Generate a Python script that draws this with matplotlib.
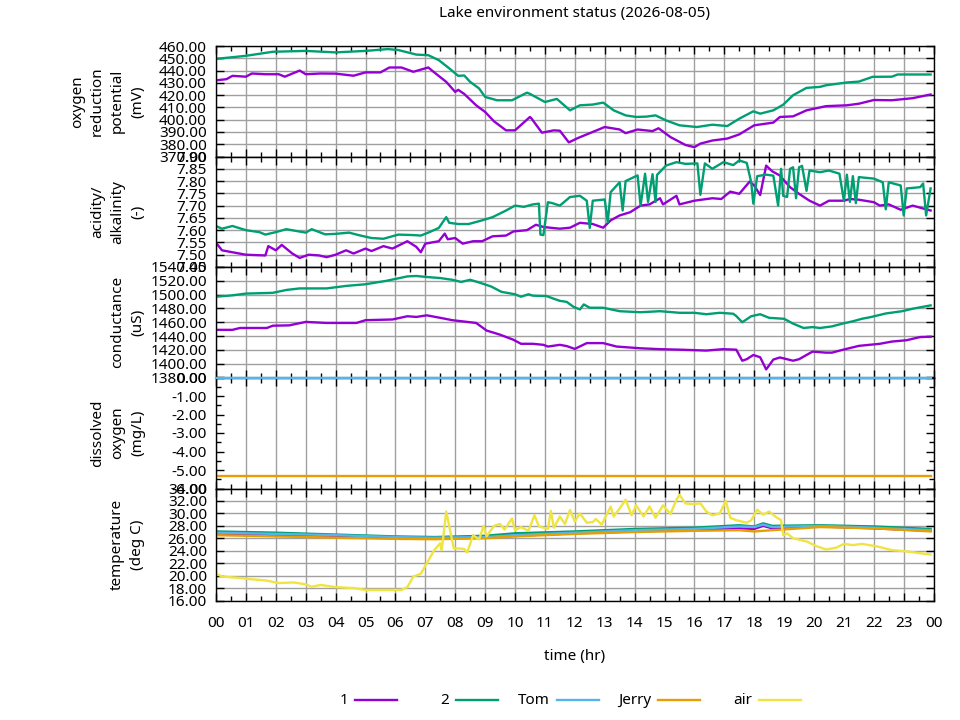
import matplotlib
matplotlib.use("Agg")
import matplotlib.pyplot as plt
from matplotlib.lines import Line2D
from matplotlib.ticker import MultipleLocator, FormatStrFormatter, FixedLocator

plt.rcParams['font.family'] = ['Noto Sans', 'DejaVu Sans']
plt.rcParams['font.size'] = 11

# ---- data (hours, value) ----
orp1_t = [0, 0.35, 0.55, 1, 1.2, 1.65, 2.1, 2.3, 2.8, 3, 3.5, 4, 4.6, 5, 5.5, 5.8, 6.2, 6.6, 7.1, 7.3,
          7.7, 8.0, 8.1, 8.3, 8.7, 9.0, 9.3, 9.7, 10.0, 10.5, 10.55, 10.9, 11.3, 11.5, 11.8, 12.1, 12.6,
          13.0, 13.5, 13.7, 14.1, 14.6, 14.8, 15.2, 15.7, 16.0, 16.2, 16.6, 17.1, 17.5, 18.0, 18.64,
          18.86, 19.3, 19.75, 20.4, 21.1, 21.5, 22.0, 22.6, 23.3, 23.9]
orp1_v = [432, 433, 435.7, 435, 437.6, 437, 437, 435, 440, 437, 437.6, 437.5, 435.8, 438.5, 438.5, 442.5,
          442.5, 439, 442.5, 438.5, 430.8, 422.6, 424.3, 421, 411.7, 406.3, 398.6, 391.3, 391.3, 402.2,
          401, 389.4, 391.3, 391, 381.5, 385, 390, 394, 392, 389, 392, 390.7, 393, 385.8, 379.4, 377.6,
          380.5, 383, 384.6, 388, 395.4, 397.6, 402.2, 402.7, 407.6, 411, 411.7, 413, 416, 415.8,
          417.5, 420.5]

orp2_t = [0, 1, 1.9, 3.0, 4.0, 5, 5.75, 6.1, 6.7, 7.1, 7.45, 7.8, 8.1, 8.3, 8.5, 8.8, 9.0, 9.4, 9.9,
          10.4, 10.5, 11.0, 11.4, 11.84, 12.17, 12.6, 12.95, 13.3, 13.7, 14.05, 14.4, 14.7, 15.05,
          15.5, 16.08, 16.6, 17.1, 17.5, 17.97, 18.2, 18.64, 18.97, 19.3, 19.75, 20.2, 20.4, 21.1,
          21.5, 21.96, 22.6, 22.8, 23.9]
orp2_v = [449.5, 452, 455.3, 456, 454.8, 456, 457.5, 456.7, 453, 452.5, 448.5, 441.8, 435.7, 436,
          430.8, 425.4, 418.5, 415.8, 415.8, 422, 421, 414.4, 416.9, 407.6, 411.7, 412.3, 413.9,
          407.6, 403.5, 402.2, 402.5, 403.5, 399.4, 395.4, 394, 395.9, 394.8, 400.8, 406.8, 404.9,
          407.6, 412.2, 419.9, 425.9, 426.7, 428, 430.3, 431, 434.9, 435, 436.8, 436.8]

ph1_t = [0, 0.2, 0.55, 1, 1.65, 1.75, 2, 2.2, 2.55, 2.8, 3.1, 3.45, 3.7, 4, 4.35, 4.6, 5, 5.2, 5.6,
         5.9, 6.4, 6.7, 6.85, 7.0, 7.45, 7.65, 7.75, 8.0, 8.25, 8.6, 8.9, 9.25, 9.7, 9.95, 10.4,
         10.7, 10.95, 11.25, 11.5, 11.84, 12.17, 12.6, 12.95, 13.2, 13.5, 13.85, 14.2, 14.5, 14.85,
         14.95, 15.4, 15.5, 16.0, 16.6, 16.9, 17.2, 17.5, 17.85, 18.0, 18.2, 18.4, 18.6, 18.85,
         19.2, 19.5, 19.85, 20.2, 20.5, 21.0, 21.2, 21.5, 22.0, 22.2, 22.5, 22.9, 23.3, 23.9]
ph1_v = [7.549, 7.518, 7.51, 7.50, 7.497, 7.535, 7.518, 7.54, 7.505, 7.487, 7.50, 7.497, 7.49, 7.50,
         7.518, 7.505, 7.525, 7.515, 7.535, 7.525, 7.555, 7.532, 7.51, 7.545, 7.555, 7.586, 7.563,
         7.568, 7.545, 7.555, 7.555, 7.575, 7.578, 7.595, 7.60, 7.622, 7.613, 7.609, 7.606, 7.61,
         7.63, 7.625, 7.61, 7.64, 7.66, 7.673, 7.70, 7.705, 7.73, 7.705, 7.74, 7.705, 7.72, 7.73,
         7.727, 7.757, 7.748, 7.798, 7.782, 7.743, 7.863, 7.84, 7.823, 7.775, 7.748, 7.72, 7.70,
         7.72, 7.72, 7.727, 7.724, 7.714, 7.70, 7.705, 7.683, 7.70, 7.68]

ph2_t = [0, 0.2, 0.55, 1, 1.45, 1.65, 2, 2.35, 3, 3.2, 3.65, 4, 4.45, 4.8, 5.2, 5.6, 6.1, 6.6, 6.85,
         7.1, 7.45, 7.7, 7.8, 8.1, 8.45, 8.9, 9.25, 9.7, 10.0, 10.3, 10.6, 10.8, 10.85, 10.95, 11.1,
         11.25, 11.5, 11.84, 12.17, 12.4, 12.5, 12.6, 13.0, 13.1, 13.2, 13.5, 13.6, 13.7, 14.1,
         14.2, 14.35, 14.45, 14.6, 14.7, 14.75, 15.05, 15.4, 15.7, 16.1, 16.2, 16.35, 16.6, 16.97,
         17.3, 17.5, 17.75, 17.9, 17.97, 18.1, 18.4, 18.64, 18.8, 18.9, 18.97, 19.1, 19.2, 19.3,
         19.4, 19.5, 19.6, 19.75, 19.85, 20.2, 20.5, 20.85, 21.0, 21.1, 21.2, 21.3, 21.4, 21.5,
         22.0, 22.3, 22.4, 22.5, 22.9, 23.0, 23.1, 23.55, 23.65, 23.75, 23.9]
ph2_v = [7.617, 7.606, 7.617, 7.60, 7.592, 7.582, 7.592, 7.604, 7.59, 7.604, 7.583, 7.585, 7.59,
         7.579, 7.568, 7.565, 7.582, 7.58, 7.578, 7.59, 7.609, 7.653, 7.63, 7.625, 7.625, 7.64,
         7.653, 7.68, 7.70, 7.695, 7.705, 7.708, 7.582, 7.58, 7.714, 7.71, 7.70, 7.735, 7.74, 7.72,
         7.609, 7.72, 7.725, 7.633, 7.755, 7.795, 7.68, 7.80, 7.823, 7.70, 7.83, 7.715, 7.828,
         7.715, 7.825, 7.863, 7.877, 7.87, 7.872, 7.744, 7.872, 7.85, 7.877, 7.865, 7.884, 7.874,
         7.795, 7.708, 7.82, 7.826, 7.822, 7.70, 7.85, 7.74, 7.735, 7.85, 7.856, 7.73, 7.856,
         7.862, 7.76, 7.843, 7.836, 7.843, 7.83, 7.72, 7.826, 7.715, 7.82, 7.71, 7.816, 7.81,
         7.795, 7.685, 7.795, 7.782, 7.66, 7.77, 7.775, 7.79, 7.66, 7.77]

cond1_t = [0, 0.55, 0.8, 1.7, 1.9, 2.45, 3, 3.7, 4.7, 5, 5.9, 6.4, 6.7, 7.05, 7.5, 7.9, 8.4, 8.7,
           9.05, 9.5, 9.95, 10.2, 10.6, 10.95, 11.1, 11.5, 11.73, 12.0, 12.4, 12.95, 13.4, 14.2,
           14.85, 15.5, 16.4, 16.95, 17.4, 17.6, 17.75, 17.97, 18.2, 18.4, 18.64, 18.86, 19.3,
           19.5, 19.95, 20.4, 20.6, 20.95, 21.5, 22.2, 22.6, 23.1, 23.55, 23.9]
cond1_v = [1449, 1449, 1451.7, 1451.7, 1455, 1455.5, 1460.5, 1459, 1459, 1463, 1464, 1468.7, 1467.7,
           1470, 1466.4, 1463, 1460.5, 1459, 1448, 1442, 1434.6, 1428.8, 1428.8, 1427.3, 1424.8,
           1427.3, 1425.5, 1421.4, 1429.8, 1429.8, 1424.8, 1422.3, 1421, 1420.3, 1419, 1421,
           1420.3, 1404.3, 1406.5, 1412.6, 1409.3, 1391.7, 1406, 1409, 1404.3, 1406.5, 1417.5,
           1416, 1416, 1420, 1425.8, 1428.8, 1432, 1434, 1438.6, 1439]

cond2_t = [0, 0.55, 1, 1.9, 2.36, 2.8, 3.7, 4.37, 5, 5.7, 6.4, 6.7, 7.05, 7.5, 7.9, 8.2, 8.5, 8.8,
           9.2, 9.55, 10.0, 10.2, 10.45, 10.6, 11.05, 11.3, 11.5, 11.73, 11.95, 12.17, 12.3, 12.5,
           12.95, 13.5, 14.2, 14.85, 15.5, 16.0, 16.4, 16.85, 17.3, 17.4, 17.6, 17.9, 18.2, 18.5,
           19.0, 19.3, 19.65, 19.95, 20.2, 20.6, 20.95, 21.3, 21.6, 21.9, 22.4, 22.95, 23.3, 23.9]
cond2_v = [1497, 1499, 1501.5, 1502.6, 1506.8, 1509, 1509, 1512.7, 1515, 1520, 1526.4, 1527, 1525.5,
           1524, 1521.5, 1518.4, 1521.5, 1517.6, 1511.8, 1504, 1500.5, 1497, 1500.5, 1498.5, 1498,
           1494, 1491, 1489.5, 1482.5, 1478.5, 1485.8, 1481, 1481, 1476, 1474.5, 1476, 1473.7,
           1473.7, 1471.6, 1473.7, 1472.3, 1469, 1460, 1468.7, 1471.6, 1466.4, 1465, 1458, 1451.7,
           1453, 1451.7, 1454, 1458, 1461.4, 1465, 1467.5, 1472.7, 1476, 1479.6, 1484.4]

do_t = [0, 23.92]
do_tom = [0.0, 0.0]
do_jerry = [-5.35, -5.35]

temp_t = [0, 2, 4, 6, 7.3, 9, 10, 12, 14, 16, 17.5, 18.0, 18.3, 18.6, 20.2, 22, 23.9]
temp1 = [26.7, 26.5, 26.4, 26.1, 26.0, 26.1, 26.4, 26.8, 27.1, 27.4, 27.6, 27.5, 28.0, 27.6, 27.9,
         27.6, 27.2]
temp2 = [27.1, 26.9, 26.6, 26.3, 26.2, 26.4, 26.8, 27.1, 27.5, 27.7, 28.1, 27.9, 28.4, 28.0, 28.1,
         27.9, 27.5]
temp_tom = [26.9, 26.7, 26.5, 26.2, 26.1, 26.2, 26.5, 26.9, 27.3, 27.5, 27.9, 27.8, 28.2, 27.8,
            28.0, 27.7, 27.3]
temp_jerry = [26.5, 26.3, 26.1, 25.9, 25.85, 26.0, 26.3, 26.7, 27.0, 27.2, 27.3, 27.1, 27.2, 27.3,
              27.8, 27.6, 27.1]

air_t = [0, 0.2, 0.85, 1, 1.7, 2.1, 2.6, 3, 3.2, 3.5, 4, 4.6, 5.0, 5.7, 6.2, 6.4, 6.6, 6.85, 7.05,
         7.3, 7.5, 7.55, 7.7, 7.85, 7.95, 8.3, 8.4, 8.6, 8.8, 8.95, 9.05, 9.3, 9.5, 9.65, 9.9, 10.0,
         10.2, 10.45, 10.65, 10.8, 11.1, 11.2, 11.3, 11.5, 11.67, 11.84, 12.0, 12.17, 12.4, 12.6,
         12.7, 12.9, 13.2, 13.3, 13.5, 13.7, 13.9, 14.05, 14.3, 14.5, 14.7, 14.95, 15.2, 15.4, 15.5,
         15.7, 15.95, 16.2, 16.4, 16.6, 16.85, 17.05, 17.2, 17.4, 17.75, 17.9, 18.1, 18.3, 18.5,
         18.7, 18.9, 18.97, 19.1, 19.3, 19.75, 20.1, 20.4, 20.75, 21.0, 21.3, 21.6, 22.1, 22.6,
         23.1, 23.55, 23.9]
air_v = [20.3, 19.85, 19.6, 19.5, 19.2, 18.8, 18.9, 18.6, 18.2, 18.5, 18.15, 18.0, 17.7, 17.7, 17.7,
         18.15, 19.85, 20.3, 22.0, 24.1, 25.2, 24.1, 30.3, 26.8, 24.4, 24.3, 23.7, 26.5, 25.8, 28.0,
         26.3, 28.0, 28.3, 27.4, 29.2, 27.3, 27.8, 27.2, 29.7, 27.9, 27.5, 30.4, 27.7, 29.5, 28.3,
         30.55, 28.7, 30.0, 28.5, 28.6, 29.1, 28.2, 31.1, 29.5, 30.8, 32.2, 29.7, 31.3, 29.5, 31.1,
         29.3, 31.3, 29.9, 32.2, 33.0, 31.6, 31.5, 31.6, 30.3, 29.7, 30.0, 32.0, 29.3, 28.9, 28.5,
         28.9, 30.6, 29.8, 30.3, 29.5, 28.9, 26.5, 26.8, 26.0, 25.5, 24.7, 24.2, 24.5, 25.1, 24.9,
         25.1, 24.7, 24.1, 23.9, 23.6, 23.4]

hour_labels = ['%02d' % (h % 24) for h in range(25)]

c1 = '#9400D3'
c2 = '#009E73'
c_tom = '#56B4E9'
c_jerry = '#E69F00'
c_air = '#F0E442'
lw = 1.7

fig = plt.figure(figsize=(9.6, 7.2), dpi=100)
W, H = 960.0, 720.0
x0, x1 = 216.0, 933.6
edges = [46.0, 156.5, 267.0, 377.5, 488.5, 600.5]

panels = [
    ('oxygen\nreduction\npotential\n(mV)', 370, 460, 10, None, True),
    ('acidity/\nalkalinity\n(-)', 7.45, 7.90, 0.05, None, True),
    ('conductance\n(uS)', 1380, 1540, 20, None, True),
    ('dissolved\noxygen\n(mg/L)', -6, 0, 1, 0.5, False),
    ('temperature\n(deg C)', 16, 34, 2, None, True),
]

axes = []
for i, (label, lo, hi, step, minor, hgrid) in enumerate(panels):
    top, bot = edges[i], edges[i + 1]
    ax = fig.add_axes([x0 / W, 1 - bot / H, (x1 - x0) / W, (bot - top) / H])
    ax.set_xlim(0, 24)
    ax.set_ylim(lo, hi)
    nticks = int(round((hi - lo) / step))
    ax.yaxis.set_major_locator(FixedLocator([lo + k * step for k in range(nticks + 1)]))
    ax.yaxis.set_major_formatter(FormatStrFormatter('%.2f'))
    if minor:
        ax.yaxis.set_minor_locator(MultipleLocator(minor))
    ax.xaxis.set_major_locator(MultipleLocator(1))
    ax.xaxis.set_minor_locator(MultipleLocator(0.5))
    ax.tick_params(which='both', direction='in', top=True, right=True, width=1, pad=6.5)
    ax.tick_params(which='major', length=6)
    ax.tick_params(which='minor', length=3.5)
    ax.grid(True, axis='x', color='#a0a0a0', lw=1)
    if hgrid:
        ax.grid(True, axis='y', color='#a0a0a0', lw=1)
    ax.set_axisbelow(True)
    for s in ax.spines.values():
        s.set_linewidth(1)
    ax.text(-0.099, 0.5, label, transform=ax.transAxes, rotation=90, ha='right', va='center',
            ma='center', linespacing=1.45)
    if i < 4:
        ax.tick_params(axis='x', labelbottom=False)
    axes.append(ax)

ax_orp, ax_ph, ax_cond, ax_do, ax_temp = axes

ax_orp.plot(orp1_t, orp1_v, color=c1, lw=lw)
ax_orp.plot(orp2_t, orp2_v, color=c2, lw=lw)
ax_ph.plot(ph1_t, ph1_v, color=c1, lw=lw)
ax_ph.plot(ph2_t, ph2_v, color=c2, lw=lw)
ax_cond.plot(cond1_t, cond1_v, color=c1, lw=lw)
ax_cond.plot(cond2_t, cond2_v, color=c2, lw=lw)
ax_do.plot(do_t, do_tom, color=c_tom, lw=lw, clip_on=False, zorder=3)
ax_do.plot(do_t, do_jerry, color=c_jerry, lw=lw)
ax_temp.plot(temp_t, temp1, color=c1, lw=lw)
ax_temp.plot(temp_t, temp2, color=c2, lw=lw)
ax_temp.plot(temp_t, temp_tom, color=c_tom, lw=lw)
ax_temp.plot(temp_t, temp_jerry, color=c_jerry, lw=lw)
ax_temp.plot(air_t, air_v, color=c_air, lw=lw)

ax_temp.set_xticks(range(25))
ax_temp.set_xticklabels(hour_labels)
ax_temp.tick_params(axis='x', pad=11)
ax_temp.set_xlabel('time (hr)', labelpad=13)

fig.text((x0 + x1) / 2 / W, 1 - 14 / H, 'Lake environment status (2026-08-05)',
         ha='center', va='center')

# legend, gnuplot style: text then sample line
legend_items = [('1', c1), ('2', c2), ('Tom', c_tom), ('Jerry', c_jerry), ('air', c_air)]
for k, (name, col) in enumerate(legend_items):
    lx = 355 + k * 101
    fig.text((lx - 7) / W, 1 - 701 / H, name, ha='right', va='center')
    fig.add_artist(Line2D([lx / W, (lx + 42) / W], [1 - 700 / H, 1 - 700 / H],
                          color=col, lw=lw, transform=fig.transFigure))

fig.savefig('out.png', dpi=100)
